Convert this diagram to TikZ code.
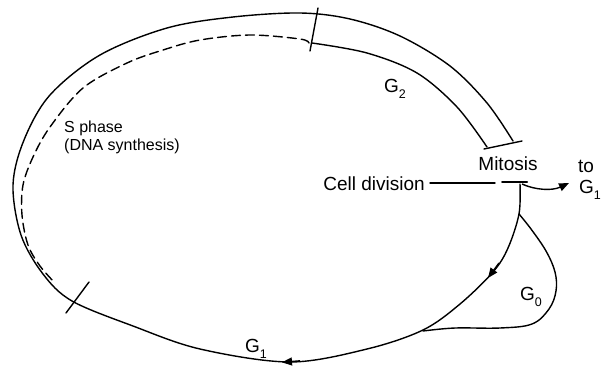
\documentclass[tikz,border=0pt]{standalone}
\usepackage{fontspec}
\setmainfont{Liberation Sans}
\usetikzlibrary{arrows.meta}
\newcommand\mysub[1]{\raisebox{-0.28em}{\fontsize{12.5}{12.5}\selectfont #1}}
\begin{document}
\begin{tikzpicture}[x=1pt,y=-1pt,
  curve/.style={line width=1.4pt, line cap=round, line join=round},
  lbl/.style={font=\fontsize{19}{21}\selectfont, inner sep=0pt},
  tipstyle/.style={-{Triangle[length=10pt,width=8pt]}, line width=1.4pt}]
\useasboundingbox (0,0) rectangle (601,370);
\clip (0,0) rectangle (601,370);
% main cycle: from mitosis, round the bottom and left, over the top, upper edge of G2 band
\draw[curve] plot[smooth, tension=0.55] coordinates {(520,184) (519,214) (508,248) (493,272) (460,304) (423,330) (367,349) (290,362) (200,349) (133,326) (72,301) (43,274) (21,235) (13,185) (24,140) (50,95) (100,55) (167,28) (233,17) (300,13) (350,19) (400,36) (450,66) (487,103) (513,141)};
% lower edge of G2 band
\draw[curve] plot[smooth, tension=0.55] coordinates {(312,43) (367,53) (417,73) (457,107) (487,147)};
% end bar of band
\coordinate (barA) at (484,149);
\coordinate (barB) at (522,141);
\draw[curve] (barA) -- (barB);
% tick at start of G2
\coordinate (tkA) at (318,8);
\coordinate (tkB) at (310,51);
\draw[curve] (tkA) -- (tkB);
% tick at end of G1 / start of S
\coordinate (tlA) at (89,282);
\coordinate (tlB) at (66,313);
\draw[curve] (tlA) -- (tlB);
% dashed S phase line
\draw[curve, dash pattern=on 9pt off 5pt] plot[smooth, tension=0.55] coordinates {(309,43) (300,39) (250,35) (200,40) (163,50) (127,63) (83,88) (50,127) (33,157) (23,185) (22,215) (28,245) (40,266) (55,283)};
% G0 loop
\draw[curve] plot[smooth, tension=0.6] coordinates {(519,214) (531,229) (546,251) (555,272) (556,291) (549,309) (532,324) (500,328) (455,328) (423,331)};
% arrowheads on cycle
\coordinate (a1s) at (300,360.8);
\coordinate (a1e) at (282,362.3);
\draw[tipstyle] (a1s) -- (a1e);
\coordinate (a2s) at (499,263);
\coordinate (a2e) at (488,278);
\draw[tipstyle] (a2s) -- (a2e);
% cell division line and mitosis junction
\node[lbl, anchor=east] (cd) at (425,184) {Cell division};
\coordinate (cdEnd) at (495,183);
\draw[curve] ([xshift=5pt]cd.east |- cdEnd) -- (cdEnd);
\coordinate (mA) at (502,182);
\coordinate (mB) at (527,182);
\draw[curve, line width=2pt] (mA) -- (mB);
\coordinate (toG) at (569,183);
\draw[tipstyle] (522,184) .. controls (535,190) and (552,191) .. (toG);
% labels
\node[lbl] (mit) at (508,164) {Mitosis};
\node[lbl, anchor=west] (to) at (578,166) {to};
\node[lbl, anchor=west] (g1r) at (579,190) {G\mysub{1}};
\node[lbl] (g2) at (395,89) {G\mysub{2}};
\node[lbl] (g0) at (531,297) {G\mysub{0}};
\node[lbl] (g1) at (256,349) {G\mysub{1}};
\node[lbl, anchor=north west, align=left, font=\fontsize{16}{18}\selectfont] (sph) at (64,121) {S phase\\(DNA synthesis)};
\end{tikzpicture}
\end{document}
